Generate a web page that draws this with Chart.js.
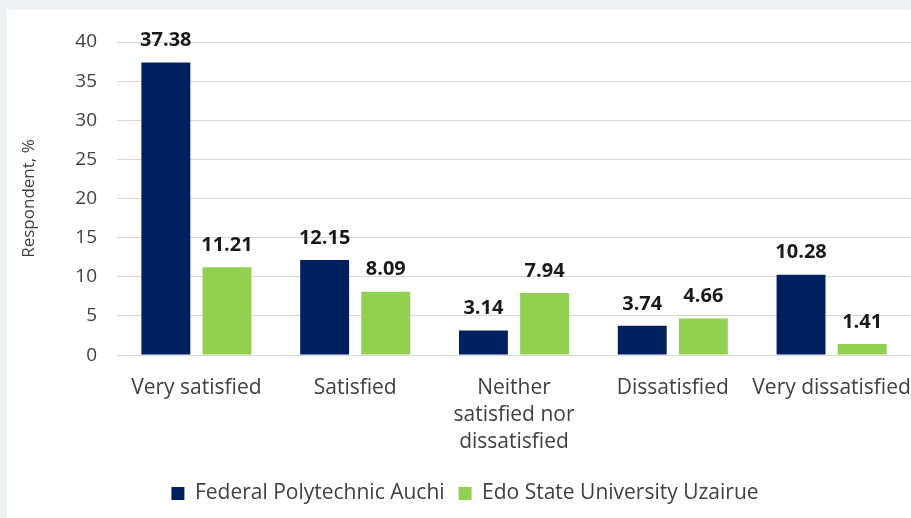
<!DOCTYPE html>
<html>
<head>
<meta charset="utf-8">
<script src="https://cdn.jsdelivr.net/npm/chart.js@4"></script>
<style>
  html, body { margin: 0; padding: 0; background: #eef0f3; }
  #wrap { position: absolute; left: 7px; top: 10px; width: 904px; height: 508px; background: #fff; }
</style>
</head>
<body>
<div id="wrap"><canvas id="satisfaction-chart"></canvas></div>
<script>
const categories = [
    'Very satisfied',
    'Satisfied',
    ['Neither', 'satisfied nor', 'dissatisfied'],
    'Dissatisfied',
    'Very dissatisfied',
];
const auchiValues = [37.38, 12.15, 3.14, 3.74, 10.28];
const uzairueValues = [11.21, 8.09, 7.94, 4.66, 1.41];
const yTicks = [0, 5, 10, 15, 20, 25, 30, 35, 40];

const fontFamily = '"Open Sans", sans-serif';

// draws the value above each bar, like the data labels in the original
const barLabels = {
    id: 'barLabels',
    afterDatasetsDraw(chart) {
        const ctx = chart.ctx;
        ctx.save();
        ctx.font = 'bold 20px ' + fontFamily;
        ctx.fillStyle = '#1a1a1a';
        ctx.textAlign = 'center';
        ctx.textBaseline = 'middle';
        chart.data.datasets.forEach((ds, i) => {
            chart.getDatasetMeta(i).data.forEach((bar, j) => {
                ctx.fillText(ds.data[j].toFixed(2), bar.x, bar.y - 22);
            });
        });
        ctx.restore();
    }
};

const satisfactionConfig = {
    type: 'bar',
    data: {
        labels: categories,
        datasets: [{
            label: 'Federal Polytechnic Auchi',
            data: auchiValues,
            backgroundColor: '#002060',
        }, {
            label: 'Edo State University Uzairue',
            data: uzairueValues,
            backgroundColor: '#92d050',
        }]
    },
    options: {
        responsive: true,
        maintainAspectRatio: false,
        animation: false,
        layout: { padding: { top: 32, right: 0, left: 12, bottom: 4 } },
        datasets: {
            bar: { barPercentage: 0.8, categoryPercentage: 0.77 }
        },
        scales: {
            y: {
                min: 0,
                max: 40,
                afterBuildTicks: (scale) => { scale.ticks = yTicks.map(v => ({ value: v })); },
                afterFit: (scale) => { scale.width = 98; },
                ticks: { color: '#404040', font: { family: fontFamily, size: 19 }, padding: 20 },
                grid: { color: '#d9d9d9', drawTicks: false },
                border: { display: false },
                title: { display: true, text: 'Respondent, %', color: '#404040', font: { family: fontFamily, size: 17 }, padding: 0 }
            },
            x: {
                afterFit: (scale) => { scale.paddingLeft = 0; scale.paddingRight = 0; scale.height -= 6; },
                ticks: { color: '#404040', font: { family: fontFamily, size: 21, lineHeight: 1.3 }, autoSkip: false, maxRotation: 0, padding: 19 },
                grid: { display: false, drawTicks: false },
                border: { color: '#d9d9d9' }
            }
        },
        plugins: {
            legend: {
                position: 'bottom',
                labels: { color: '#404040', font: { family: fontFamily, size: 21 }, boxWidth: 13, boxHeight: 13, padding: 14 }
            },
            tooltip: { enabled: false }
        }
    },
    plugins: [barLabels]
};

const satisfactionChart = new Chart(document.getElementById('satisfaction-chart'), satisfactionConfig);
</script>
</body>
</html>
